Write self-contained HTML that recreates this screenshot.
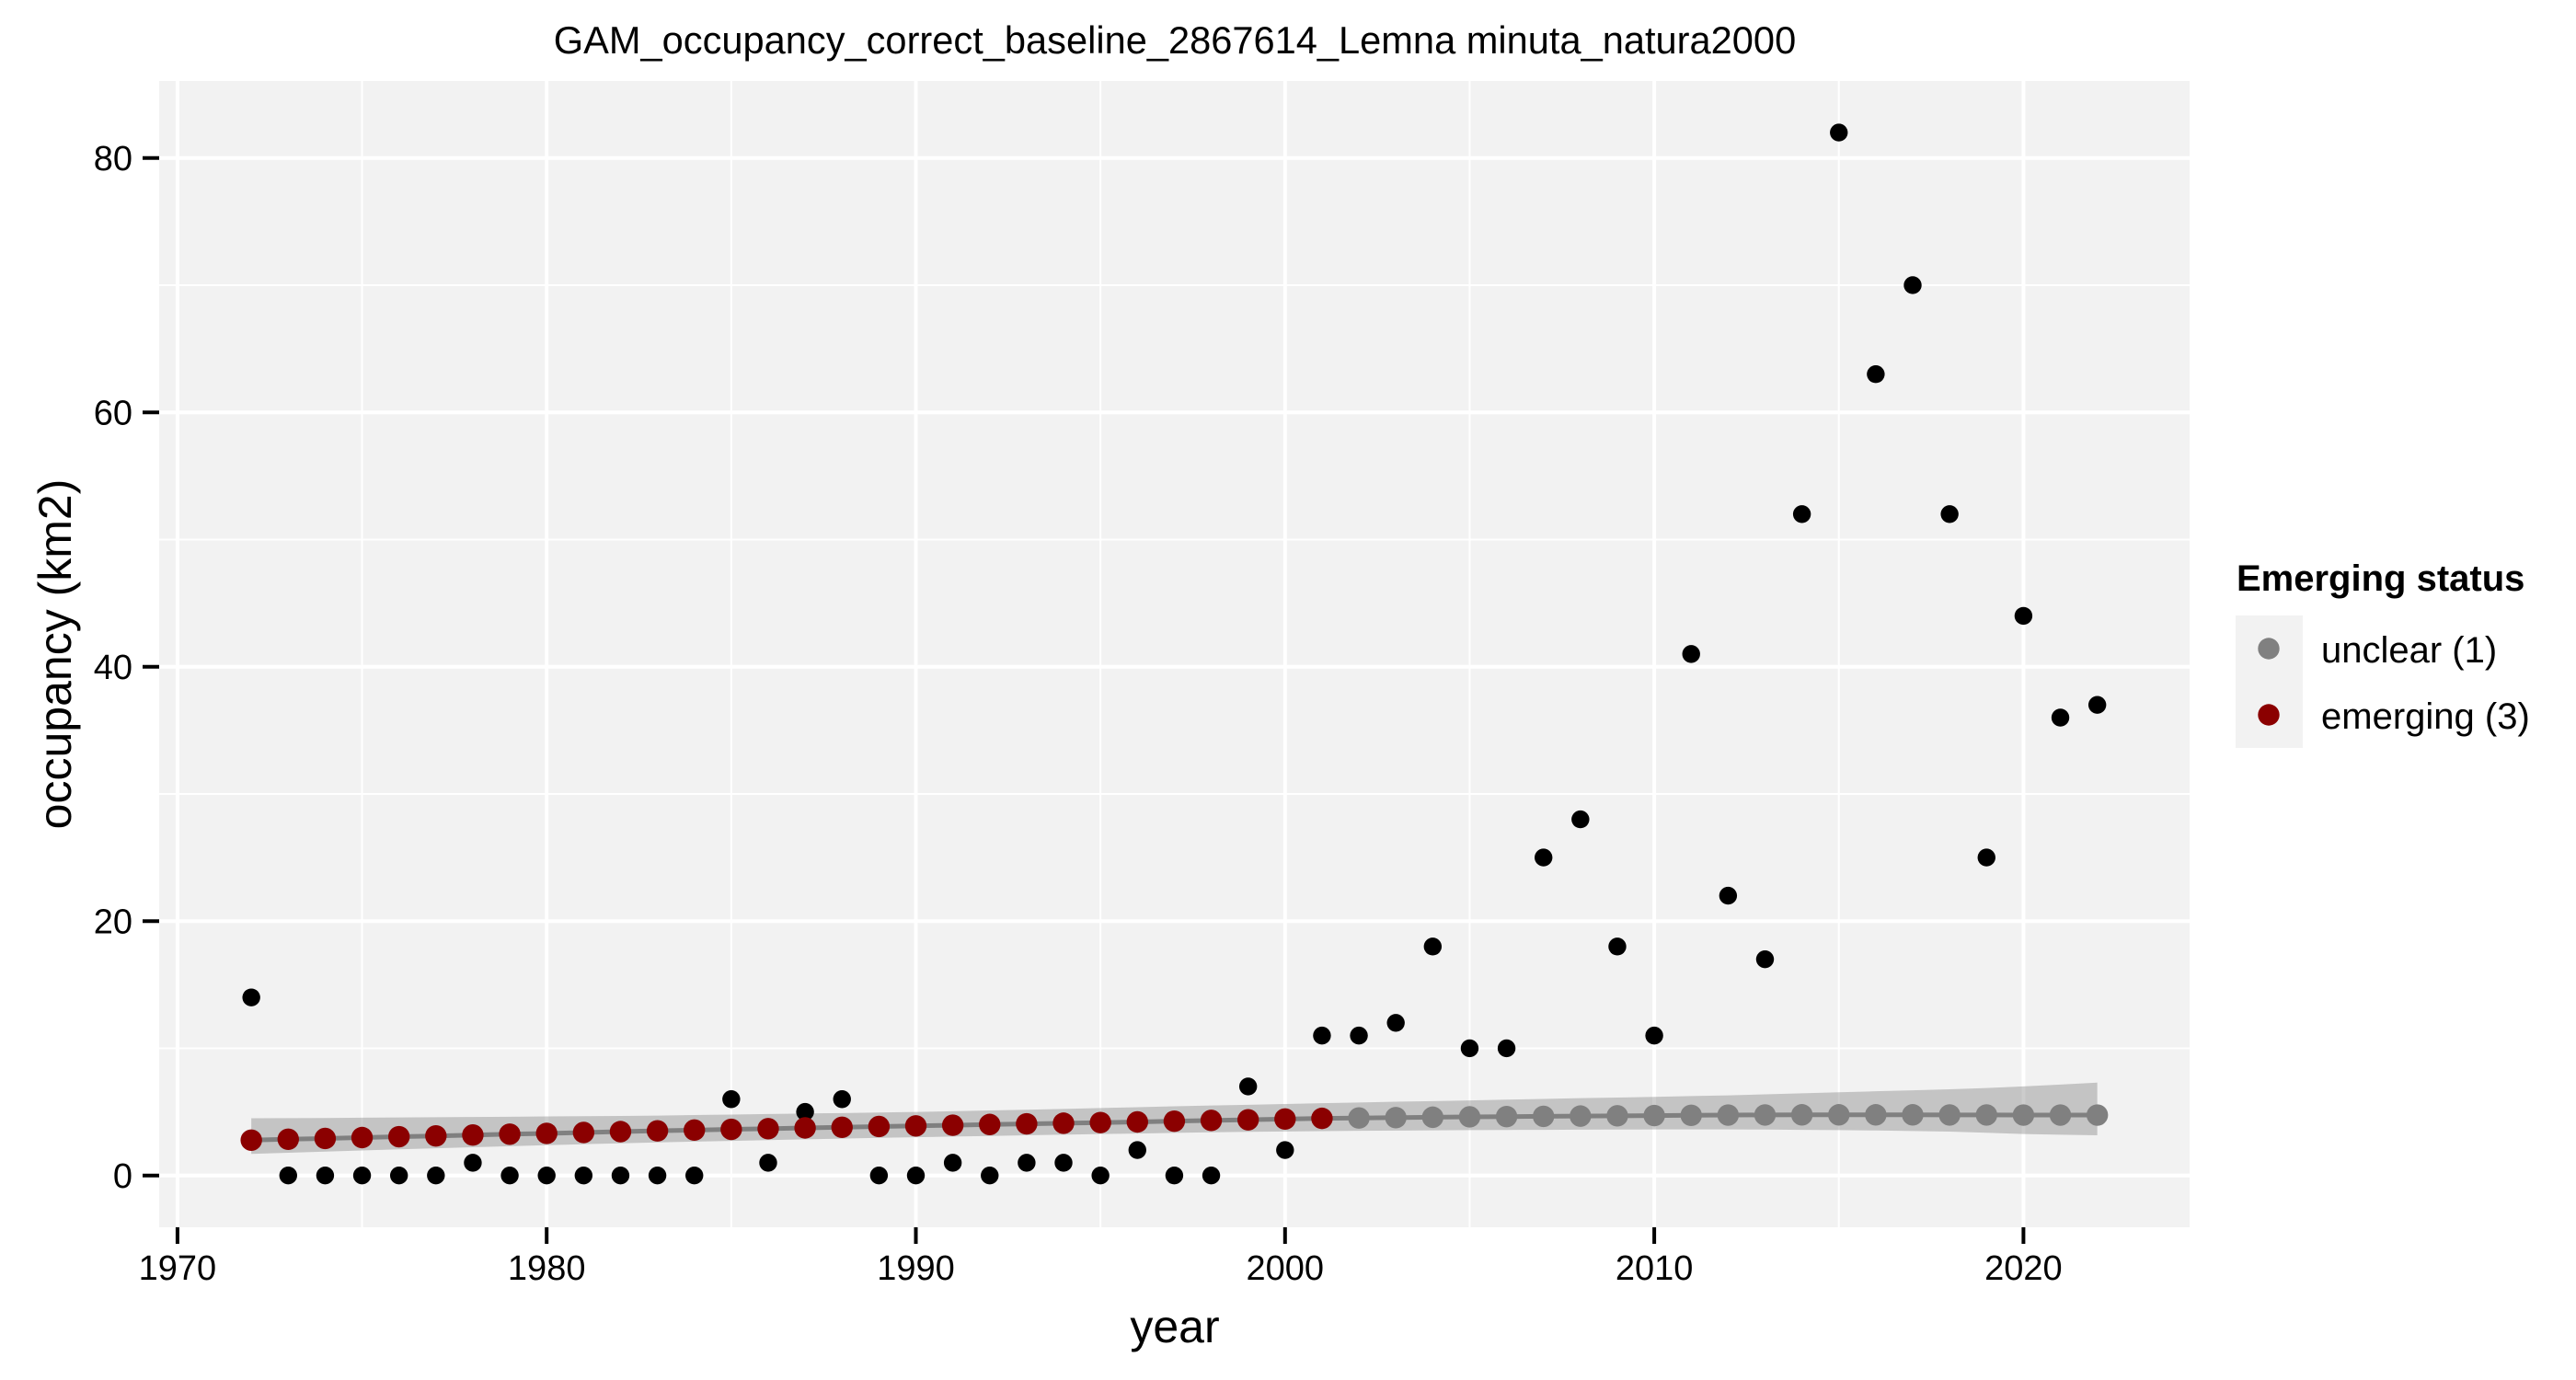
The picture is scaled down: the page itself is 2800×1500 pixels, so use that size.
<!DOCTYPE html>
<html>
<head>
<meta charset="utf-8">
<title>GAM occupancy chart</title>
<style>
html,body{margin:0;padding:0;background:#fff;width:2800px;height:1500px;overflow:hidden}
svg{display:block}
text{font-family:"Liberation Sans",sans-serif;fill:#000}
</style>
</head>
<body>
<svg id="chart" width="2800" height="1500" viewBox="0 0 2800 1500">
  <rect x="0" y="0" width="2800" height="1500" fill="#ffffff"/>
  <rect x="173" y="88" width="2207" height="1246" fill="#f2f2f2"/>
  <g id="grid"></g>
  <g id="marks"></g>
  <g id="axes"></g>
  <text x="1277" y="58" font-size="41.6" text-anchor="middle">GAM_occupancy_correct_baseline_2867614_Lemna minuta_natura2000</text>
  <text x="1277" y="1459" font-size="50" text-anchor="middle">year</text>
  <text x="0" y="0" font-size="50" text-anchor="middle" transform="translate(77,711) rotate(-90)">occupancy (km2)</text>
  <g>
    <text x="2431" y="642" font-size="40" font-weight="bold">Emerging status</text>
    <rect x="2430" y="669" width="73" height="144" fill="#f2f2f2"/>
    <circle cx="2466" cy="705" r="11.7" fill="#808080"/>
    <circle cx="2466" cy="777" r="11.7" fill="#8b0000"/>
    <text x="2523" y="720" font-size="40">unclear (1)</text>
    <text x="2523" y="792" font-size="40">emerging (3)</text>
  </g>
</svg>
<script>
const years = [1972,1973,1974,1975,1976,1977,1978,1979,1980,1981,1982,1983,1984,1985,1986,1987,1988,1989,1990,1991,1992,1993,1994,1995,1996,1997,1998,1999,2000,2001,2002,2003,2004,2005,2006,2007,2008,2009,2010,2011,2012,2013,2014,2015,2016,2017,2018,2019,2020,2021,2022];
const occupancy = [14,0,0,0,0,0,1,0,0,0,0,0,0,6,1,5,6,0,0,1,0,1,1,0,2,0,0,7,2,11,11,12,18,10,10,25,28,18,11,41,22,17,52,82,63,70,52,25,44,36,37];
const fitted = [2.78,2.85,2.91,2.98,3.05,3.11,3.18,3.25,3.31,3.38,3.45,3.51,3.57,3.63,3.68,3.74,3.79,3.85,3.90,3.95,4.01,4.06,4.11,4.16,4.21,4.27,4.33,4.38,4.44,4.49,4.52,4.55,4.58,4.61,4.63,4.65,4.67,4.69,4.71,4.73,4.75,4.76,4.77,4.77,4.77,4.77,4.76,4.76,4.75,4.75,4.75];
const ciLower = [1.70,1.79,1.88,1.97,2.06,2.14,2.22,2.30,2.38,2.46,2.53,2.60,2.66,2.72,2.78,2.84,2.90,2.96,3.01,3.06,3.11,3.16,3.21,3.26,3.30,3.35,3.40,3.43,3.46,3.49,3.51,3.53,3.55,3.57,3.58,3.59,3.60,3.61,3.62,3.62,3.62,3.61,3.59,3.57,3.54,3.50,3.45,3.36,3.26,3.21,3.16];
const ciUpper = [4.50,4.51,4.52,4.54,4.56,4.58,4.60,4.62,4.64,4.66,4.68,4.71,4.75,4.79,4.83,4.87,4.91,4.95,5.00,5.05,5.11,5.17,5.23,5.30,5.37,5.44,5.50,5.56,5.62,5.68,5.74,5.80,5.85,5.90,5.96,6.02,6.08,6.13,6.18,6.24,6.30,6.38,6.46,6.54,6.62,6.70,6.78,6.88,7.00,7.15,7.30];
const status = ['emerging','emerging','emerging','emerging','emerging','emerging','emerging','emerging','emerging','emerging','emerging','emerging','emerging','emerging','emerging','emerging','emerging','emerging','emerging','emerging','emerging','emerging','emerging','emerging','emerging','emerging','emerging','emerging','emerging','emerging','unclear','unclear','unclear','unclear','unclear','unclear','unclear','unclear','unclear','unclear','unclear','unclear','unclear','unclear','unclear','unclear','unclear','unclear','unclear','unclear','unclear'];
const xTickLabels = [1970,1980,1990,2000,2010,2020];
const yTickLabels = [0,20,40,60,80];
const xMinorTicks = [1975,1985,1995,2005,2015];
const yMinorTicks = [10,30,50,70];

const NS = 'http://www.w3.org/2000/svg';
const panelLeft = 173, panelRight = 2380, panelTop = 88, panelBottom = 1334;
function xScale(v){ return 192.9 + (v - 1970) * 40.13; }
function yScale(v){ return 1277.7 - v * 13.825; }
function make(parent, tag, attrs){
  const el = document.createElementNS(NS, tag);
  for (const k in attrs) el.setAttribute(k, attrs[k]);
  parent.appendChild(el);
  return el;
}
const grid = document.getElementById('grid');
const marks = document.getElementById('marks');
const axes = document.getElementById('axes');

yMinorTicks.forEach(function(v){
  const el = make(grid, 'line', {x1:panelLeft, x2:panelRight, y1:yScale(v), y2:yScale(v), stroke:'#fff', 'stroke-width':2});
  
  
});
xMinorTicks.forEach(function(v){
  const el = make(grid, 'line', {x1:xScale(v), x2:xScale(v), y1:panelTop, y2:panelBottom, stroke:'#fff', 'stroke-width':2});
  
  
});
yTickLabels.forEach(function(v){
  const el = make(grid, 'line', {x1:panelLeft, x2:panelRight, y1:yScale(v), y2:yScale(v), stroke:'#fff', 'stroke-width':4});
  
  
});
xTickLabels.forEach(function(v){
  const el = make(grid, 'line', {x1:xScale(v), x2:xScale(v), y1:panelTop, y2:panelBottom, stroke:'#fff', 'stroke-width':4});
  
  
});

/* confidence ribbon */
const upperPts = years.map(function(yr, i){ return xScale(yr) + ',' + yScale(ciUpper[i]); });
const lowerPts = years.map(function(yr, i){ return xScale(yr) + ',' + yScale(ciLower[i]); }).reverse();
const ribbon = make(marks, 'polygon', {points: upperPts.concat(lowerPts).join(' '), fill:'#808080', 'fill-opacity':0.4});



/* fitted line */
const linePts = years.map(function(yr, i){ return xScale(yr) + ',' + yScale(fitted[i]); }).join(' ');
const fitLine = make(marks, 'polyline', {points: linePts, fill:'none', stroke:'#808080', 'stroke-width':5});



/* observed points */
years.forEach(function(yr, i){
  const el = make(marks, 'circle', {cx:xScale(yr), cy:yScale(occupancy[i]), r:9.7, fill:'#000'});
  
  
});

/* fitted points coloured by status */
years.forEach(function(yr, i){
  const el = make(marks, 'circle', {cx:xScale(yr), cy:yScale(fitted[i]), r:11.7, fill: status[i] === 'emerging' ? '#8b0000' : '#808080'});
  
  
});

/* axes */
xTickLabels.forEach(function(v){
  const tick = make(axes, 'line', {x1:xScale(v), x2:xScale(v), y1:panelBottom, y2:panelBottom + 18, stroke:'#000', 'stroke-width':4});
  
  
  const label = make(axes, 'text', {x:xScale(v), y:1391, 'font-size':38, 'text-anchor':'middle'});
  
  
  label.textContent = v;
});
yTickLabels.forEach(function(v){
  const tick = make(axes, 'line', {x1:panelLeft - 18, x2:panelLeft, y1:yScale(v), y2:yScale(v), stroke:'#000', 'stroke-width':4});
  
  
  const label = make(axes, 'text', {x:144, y:yScale(v) + 13.5, 'font-size':38, 'text-anchor':'end'});
  
  
  label.textContent = v;
});
</script>
</body>
</html>
